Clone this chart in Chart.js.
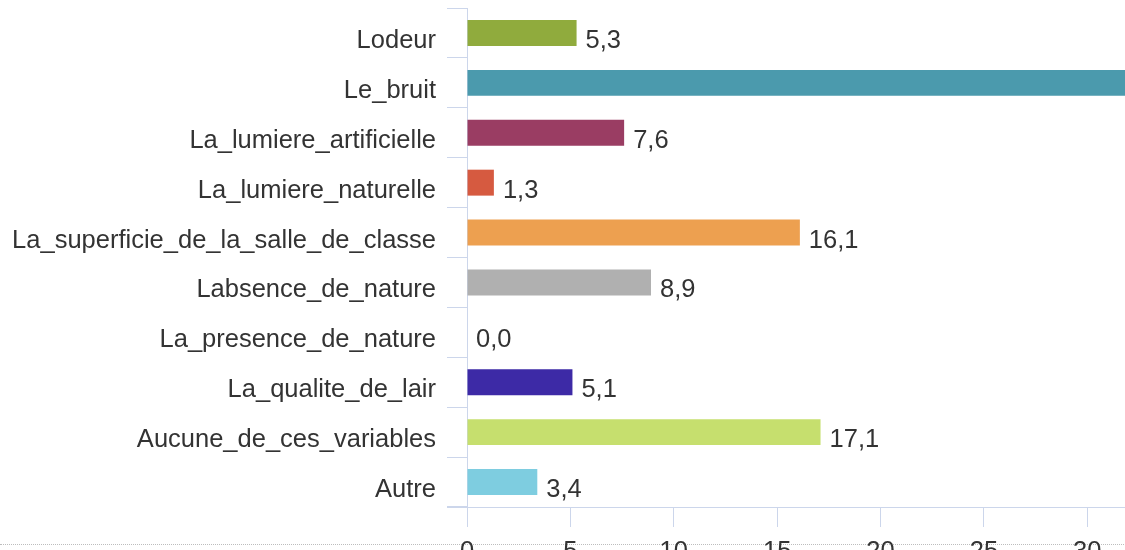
<!DOCTYPE html>
<html>
<head>
<meta charset="utf-8">
<script src="https://cdn.jsdelivr.net/npm/chart.js@4"></script>
<style>
  html, body { margin: 0; padding: 0; background: #fff; overflow: hidden; }
  #wrap { position: absolute; left: 0; top: 0; width: 1330px; height: 580px; }
  #dots { position: absolute; left: 0; top: 544px; width: 1330px; border-top: 1px dotted #bdbdbd; }
  #myChart { position: absolute; left: 0; top: 0; }
</style>
</head>
<body>
<div id="wrap">
  <div id="dots"></div>
  <canvas id="myChart" width="1330" height="580"></canvas>
</div>
<script>
// categories, top to bottom
const categories = [
  "Lodeur", "Le_bruit", "La_lumiere_artificielle", "La_lumiere_naturelle",
  "La_superficie_de_la_salle_de_classe", "Labsence_de_nature", "La_presence_de_nature",
  "La_qualite_de_lair", "Aucune_de_ces_variables", "Autre"
];
// percentages (Le_bruit is cut off in the picture, the rest adds up to 64,8)
const values = [5.3, 35.2, 7.6, 1.3, 16.1, 8.9, 0.0, 5.1, 17.1, 3.4];
const barColors = [
  "#90ab3d", "#4b9aad", "#9a3d63", "#d65a40", "#eda050",
  "#b0b0b0", "#6a5acd", "#3d2aa6", "#c6df6e", "#7ecde0"
];
const xMin = 0;
const xMax = 40;
const xStep = 5;

const axisColor = "#ccd6eb";
const textColor = "#333333";
const fontFamily = "'Liberation Sans', Arial, sans-serif";

// value labels next to each bar, e.g. "5,3"
const valueLabels = {
  id: "valueLabels",
  afterDatasetsDraw(chart) {
    const c = chart.ctx;
    const meta = chart.getDatasetMeta(0);
    c.save();
    c.font = "25.5px " + fontFamily;
    c.fillStyle = textColor;
    c.textAlign = "left";
    c.textBaseline = "alphabetic";
    meta.data.forEach((bar, i) => {
      const txt = values[i].toFixed(1).replace(".", ",");
      c.fillText(txt, bar.x + 9, bar.y + 15);
    });
    c.restore();
  }
};

// x axis line continues under the y tick marks
const axisExtend = {
  id: "axisExtend",
  afterDraw(chart) {
    const c = chart.ctx;
    const area = chart.chartArea;
    c.save();
    c.strokeStyle = axisColor;
    c.lineWidth = 1;
    c.beginPath();
    c.moveTo(area.left - 20, area.bottom + 0.5);
    c.lineTo(area.left, area.bottom + 0.5);
    c.stroke();
    c.restore();
  }
};

const ctx = document.getElementById("myChart");

new Chart(ctx, {
  type: "bar",
  data: {
    labels: categories,
    datasets: [{
      data: values,
      backgroundColor: barColors,
      borderWidth: 0,
      barPercentage: 0.52,
      categoryPercentage: 1
    }]
  },
  options: {
    indexAxis: "y",
    responsive: false,
    animation: false,
    devicePixelRatio: 1,
    layout: { padding: { top: 8, right: 36, left: 0, bottom: 0 } },
    plugins: {
      legend: { display: false },
      tooltip: { enabled: false }
    },
    scales: {
      y: {
        afterFit: (s) => { s.width = 467; s.paddingTop = 0; s.paddingBottom = 0; },
        grid: {
          drawOnChartArea: false,
          color: axisColor,
          tickLength: 20,
          offset: true
        },
        border: { display: true, color: axisColor },
        ticks: {
          color: textColor,
          padding: 11,
          labelOffset: 8,
          font: { family: fontFamily, size: 25.5 }
        }
      },
      x: {
        min: xMin,
        max: xMax,
        afterFit: (s) => { s.height = 73; s.paddingLeft = 0; s.paddingRight = 0; },
        grid: {
          drawOnChartArea: false,
          color: axisColor,
          tickLength: 20
        },
        border: { display: true, color: axisColor },
        ticks: {
          stepSize: xStep,
          color: textColor,
          padding: 10,
          maxRotation: 0,
          font: { family: fontFamily, size: 25.5 }
        }
      }
    }
  },
  plugins: [valueLabels, axisExtend]
});
</script>
</body>
</html>
